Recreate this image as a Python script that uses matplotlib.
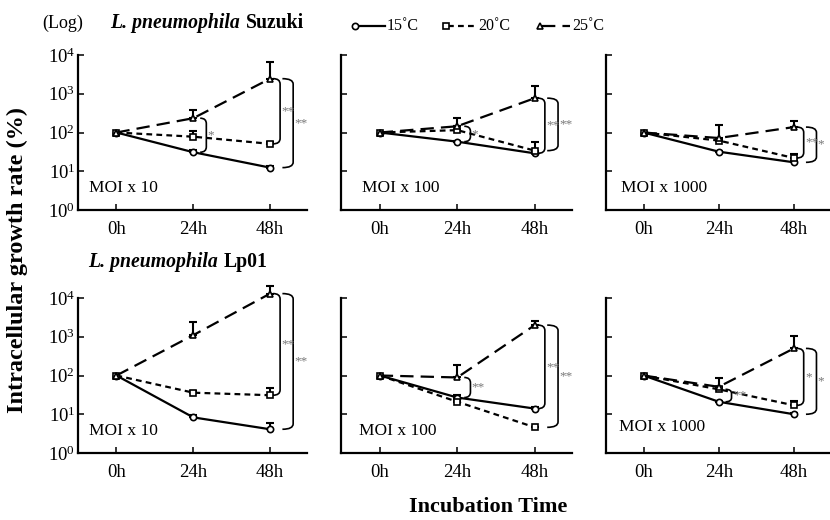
import matplotlib
matplotlib.use('Agg')
import numpy as np
import matplotlib.pyplot as plt
from matplotlib.path import Path
from matplotlib.patches import PathPatch
from matplotlib.lines import Line2D

plt.rcParams['font.family'] = ['Liberation Serif', 'DejaVu Serif']
plt.rcParams['mathtext.fontset'] = 'custom'
plt.rcParams['mathtext.rm'] = 'Liberation Serif'

times = ['0h', '24h', '48h']
temps = ['15˚C', '20˚C', '25˚C']

# means per temperature (15, 20, 25)
suzuki_10 = [[100, 31, 12.4], [100, 78, 51], [100, 234, 2450]]
suzuki_10_top = [[100, 35, 13.5], [100, 110, 58], [100, 380, 6600]]
suzuki_100 = [[100, 58, 29], [100, 115, 34], [100, 145, 770]]
suzuki_100_top = [[100, 62, 31], [100, 150, 56], [100, 235, 1540]]
suzuki_1000 = [[100, 32, 17], [100, 62, 22], [100, 72, 138]]
suzuki_1000_top = [[100, 34, 18], [100, 68, 28], [100, 158, 200]]

lp01_10 = [[100, 8.3, 4.1], [100, 36, 31], [100, 1100, 13000]]
lp01_10_top = [[100, 9.5, 5.8], [100, 40, 47], [100, 2400, 21000]]
lp01_100 = [[100, 27, 14], [100, 21, 4.6], [100, 89, 2000]]
lp01_100_top = [[100, 31, 15.5], [100, 23, 4.8], [100, 185, 2570]]
lp01_1000 = [[100, 21, 10], [100, 44, 17], [100, 51, 500]]
lp01_1000_top = [[100, 22, 11], [100, 48, 22], [100, 85, 1040]]

# significance: (time index, upper series, lower series, label)
sig_suzuki_10 = [(1, 2, 0, '*'), (2, 2, 1, '**'), (2, 2, 0, '**')]
sig_suzuki_100 = [(1, 2, 0, '*'), (2, 2, 0, '**'), (2, 2, 1, '**')]
sig_suzuki_1000 = [(2, 2, 1, '**'), (2, 2, 0, '*')]
sig_lp01_10 = [(2, 2, 1, '**'), (2, 2, 0, '**')]
sig_lp01_100 = [(1, 2, 0, '**'), (2, 2, 0, '**'), (2, 2, 1, '**')]
sig_lp01_1000 = [(1, 1, 0, '**'), (2, 2, 1, '*'), (2, 2, 0, '*')]

moi_labels = ['MOI x 10', 'MOI x 100', 'MOI x 1000']

styles = [
    dict(ls='-', marker='o'),
    dict(ls=(0, (2.6, 1.9)), marker='s'),
    dict(ls=(0, (6, 3.2)), marker='^'),
]
LW = 1.6


def bracket(ax, t, ya, yb, label, level):
    x0, x1 = ax.get_xlim()
    if t == 1:
        xs, w = 0.09, 0.08
    elif level == 0:
        xs, w = 0.04, 0.09
    else:
        xs, w = 0.16, 0.14
    xa = (t + xs - x0) / (x1 - x0)
    xb = (t + xs + w - x0) / (x1 - x0)
    yt = np.log10(ya) / 4
    ybt = np.log10(yb) / 4
    r = min(0.035, (yt - ybt) / 3)
    verts = [(xa, yt), (xb, yt), (xb, yt - r), (xb, ybt + r), (xb, ybt), (xa, ybt)]
    codes = [Path.MOVETO, Path.CURVE3, Path.CURVE3, Path.LINETO, Path.CURVE3, Path.CURVE3]
    ax.add_patch(PathPatch(Path(verts, codes), fc='none', ec='black', lw=1.2,
                           transform=ax.transAxes, clip_on=False))
    ax.text(xb + 0.006, (yt + ybt) / 2, label, transform=ax.transAxes, color='#777777',
            fontsize=9.5, ha='left', va='center', clip_on=False)


def draw_panel(ax, means, tops, sigs, moi, show_ylab, moi_pos):
    x = np.arange(len(times))
    ax.set_yscale('log')
    ax.set_ylim(1, 1e4)
    ax.set_xlim(-0.5, 2.48)
    for k in range(3):
        m = np.array(means[k], dtype=float)
        tp = np.array(tops[k], dtype=float)
        ax.errorbar(x[1:], m[1:], yerr=[np.zeros(2), tp[1:] - m[1:]], fmt='none',
                    ecolor='black', elinewidth=1.5, capsize=3, capthick=1.5, zorder=2,
                    clip_on=False)
        ax.plot(x, m, color='black', lw=LW, linestyle=styles[k]['ls'],
                marker=styles[k]['marker'], ms=4.5, mfc='white', mec='black', mew=1.2,
                zorder=3, clip_on=False)
    placed = {}
    for t, a, b, lab in sigs:
        lvl = placed.get(t, 0)
        bracket(ax, t, means[a][t], means[b][t], lab, lvl)
        placed[t] = lvl + 1
    for s in ['top', 'right']:
        ax.spines[s].set_visible(False)
    for s in ['left', 'bottom']:
        ax.spines[s].set_linewidth(1.6)
    ax.set_yticks([1, 10, 100, 1000, 10000])
    ax.minorticks_off()
    if show_ylab:
        ax.set_yticklabels([r'$\mathregular{10^{%d}}$' % i for i in range(5)])
    else:
        ax.set_yticklabels([])
    ax.set_xticks(x)
    ax.set_xticklabels(times)
    ax.tick_params(axis='both', direction='in', length=4, width=1.1, labelsize=13.5)
    ax.tick_params(axis='x', pad=8)
    ax.tick_params(axis='y', pad=2)
    ax.text(moi_pos[0], moi_pos[1], moi, transform=ax.transAxes, fontsize=12.5,
            ha='left', va='center')


fig = plt.figure(figsize=(8.3, 5.2), dpi=100)

cols = [(78, 229), (341, 231), (606, 224)]
rows = [(55, 155), (298, 155)]
W, H = 830, 520

def axes_at(col, row):
    x, w = cols[col]
    y, h = rows[row]
    return fig.add_axes([x / W, 1 - (y + h) / H, w / W, h / H])

top_data = [(suzuki_10, suzuki_10_top, sig_suzuki_10),
            (suzuki_100, suzuki_100_top, sig_suzuki_100),
            (suzuki_1000, suzuki_1000_top, sig_suzuki_1000)]
bot_data = [(lp01_10, lp01_10_top, sig_lp01_10),
            (lp01_100, lp01_100_top, sig_lp01_100),
            (lp01_1000, lp01_1000_top, sig_lp01_1000)]
moi_top_pos = [(0.05, 0.14), (0.09, 0.14), (0.067, 0.14)]
moi_bot_pos = [(0.05, 0.14), (0.08, 0.14), (0.06, 0.17)]

for i in range(3):
    ax = axes_at(i, 0)
    draw_panel(ax, *top_data[i], moi_labels[i], i == 0, moi_top_pos[i])
    ax = axes_at(i, 1)
    draw_panel(ax, *bot_data[i], moi_labels[i], i == 0, moi_bot_pos[i])

# titles
fig.text(42 / W, 1 - 23 / H, '(Log)', fontsize=13, ha='left', va='center')
t1 = fig.text(110 / W, 1 - 23 / H, 'L. pneumophila', fontsize=14.2, fontweight='bold',
              fontstyle='italic', ha='left', va='center')
t2 = fig.text(88 / W, 1 - 262 / H, 'L. pneumophila', fontsize=14.2, fontweight='bold',
              fontstyle='italic', ha='left', va='center')

fig.canvas.draw()
r = fig.canvas.get_renderer()
for t, rest in [(t1, 'Suzuki'), (t2, 'Lp01')]:
    bb = t.get_window_extent(r)
    fig.text(bb.x1 / W + 6 / W, t.get_position()[1], rest, fontsize=14.2,
             fontweight='bold', ha='left', va='center')

fig.text(17 / W, 0.5, 'Intracellular growth rate (%)', rotation=90, fontsize=17.5,
         fontweight='bold', ha='center', va='center')
fig.text(488 / W, 1 - 507 / H, 'Incubation Time', fontsize=16, fontweight='bold',
         ha='center', va='center')

# legend
leg_x = [355, 446, 540]
ly = 1 - 26 / H
for k in range(3):
    x0 = leg_x[k]
    fig.add_artist(Line2D([(x0 + 2) / W, (x0 + 30) / W], [ly, ly], color='black', lw=LW,
                          linestyle=styles[k]['ls']))
    fig.add_artist(Line2D([x0 / W], [ly], marker=styles[k]['marker'], ms=4.5, mfc='white',
                          mec='black', mew=1.2, color='black'))
    fig.text((x0 + 32) / W, ly, temps[k], fontsize=11.5, ha='left', va='center')

fig.savefig('out.png', dpi=100)
